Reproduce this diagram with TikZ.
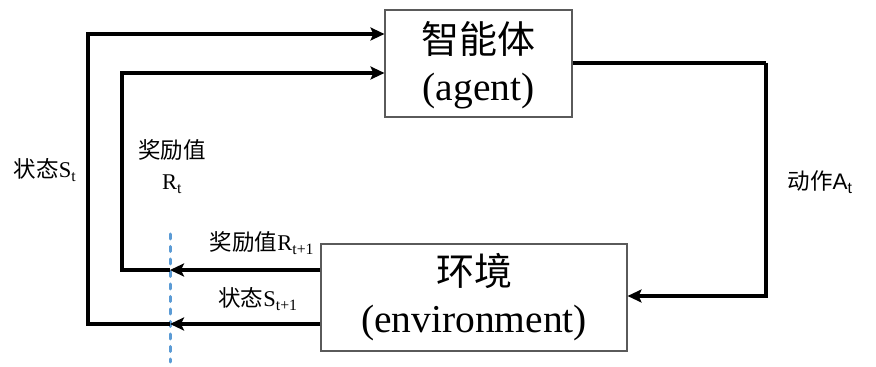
\documentclass[tikz,border=0pt]{standalone}
\usepackage{fontspec}
\setmainfont{Liberation Serif}
\setsansfont{Liberation Sans}
\newfontfamily\cjk{Noto Sans CJK SC}
\usetikzlibrary{arrows.meta,calc}
\definecolor{dashblue}{HTML}{5B9BD5}
\definecolor{boxgray}{HTML}{5A5A5A}
\begin{document}
\begin{tikzpicture}[x=1pt,y=1pt,
  box/.style={draw=boxgray,line width=1.1pt,fill=white,minimum width=#1,minimum height=107pt,inner sep=0pt},
  flow/.style={line width=3.2pt,-{Stealth[length=14pt,width=13pt,inset=3pt]}},
  plain/.style={line width=3.2pt},
  lab/.style={inner sep=0pt,font=\fontsize{22.5}{24}\selectfont},
  bigzh/.style={inner sep=0pt,font=\fontsize{38}{42}\selectfont},
  bigen/.style={inner sep=0pt,font=\fontsize{39.5}{44}\selectfont}]
\useasboundingbox (0,0) rectangle (876,367);
% boxes
\node[box=187pt] (agent) at (478.5,303.5) {};
\node[box=306pt] (env) at (474,69.5) {};
\node[bigzh] (agentzh) at (478.5,328) {\cjk 智能体};
\node[bigen] (agenten) at (478.5,276) {(agent)};
\node[bigzh] (envzh) at (474,96) {\cjk 环境};
\node[bigen] (envEn) at (474,44) {(environment)};
% coordinates
\coordinate (aIn1) at ($(agent.west)+(0,29.5)$);
\coordinate (aIn2) at ($(agent.west)+(0,-9.5)$);
\coordinate (aOut) at ($(agent.east)+(0,0.5)$);
\coordinate (eIn) at ($(env.east)+(0,1.5)$);
\coordinate (eOut1) at ($(env.west)+(0,27.5)$);
\coordinate (eOut2) at ($(env.west)+(0,-26.5)$);
\coordinate (d1) at (170,97);
\coordinate (d2) at (170,43);
\coordinate (c1) at (122,97);
\coordinate (c2) at (88,43);
\coordinate (rc) at (766,304);
% dashed line
\coordinate (dtop) at (170,133);
\coordinate (dbot) at (170,5);
\draw[dashblue,line width=3pt,line cap=round,dash pattern=on 5pt off 7.5pt] (dtop) -- (dbot);
% action
\draw[plain] (aOut) -- (rc);
\draw[flow] (rc) |- (eIn);
% reward
\draw[flow] (eOut1) -- (d1);
\draw[flow] (d1) -- (c1) |- (aIn2);
% state
\draw[flow] (eOut2) -- (d2);
\draw[flow] (d2) -- (c2) |- (aIn1);
% labels
\node[lab,anchor=base] (lS) at (45,189) {\cjk 状态\rmfamily S\textsubscript{t}};
\node[lab,anchor=base] (lR1) at (172,208) {\cjk 奖励值};
\node[lab,anchor=base] (lR2) at (172,177) {R\textsubscript{t}};
\node[lab,anchor=base] (lR3) at (262,116) {\cjk 奖励值\rmfamily R\textsubscript{t+1}};
\node[lab,anchor=base] (lS2) at (258,60) {\cjk 状态\rmfamily S\textsubscript{t+1}};
\node[lab,anchor=base] (lA) at (820,177) {\cjk 动作\sffamily A\textsubscript{t}};
\end{tikzpicture}
\end{document}
